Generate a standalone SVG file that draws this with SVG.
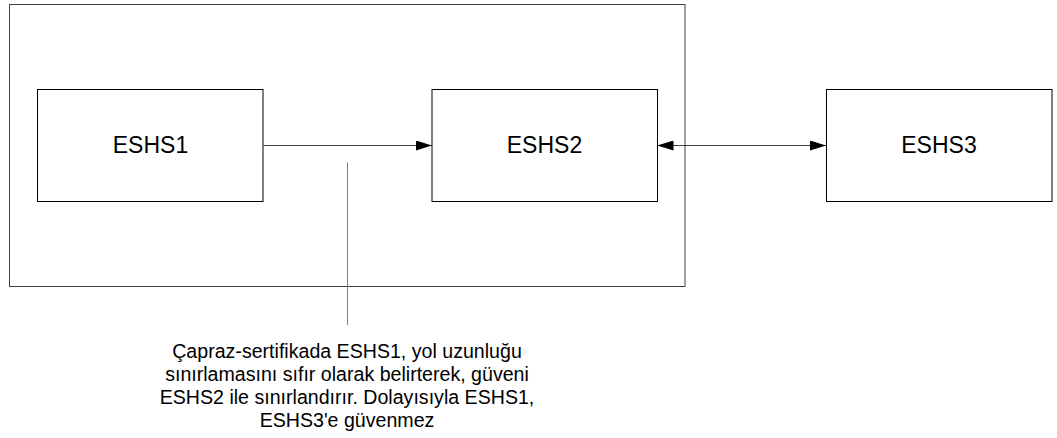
<svg xmlns="http://www.w3.org/2000/svg" width="1057" height="438" viewBox="0 0 1057 438">
  <style>
    .box { fill: #ffffff; stroke: #000000; stroke-width: 1; }
    .frame { fill: none; stroke: #404040; stroke-width: 1; }
    .link { fill: none; stroke: #404040; stroke-width: 1; }
    .callout { fill: none; stroke: #808080; stroke-width: 1; }
    .label { font-family: "Liberation Sans", Arial, sans-serif; font-size: 23px; fill: #000000; text-anchor: middle; }
    .note { font-family: "Liberation Sans", Arial, sans-serif; font-size: 19.6px; fill: #000000; text-anchor: middle; }
  </style>
  <defs>
    <marker id="head" viewBox="0 0 16 10" refX="16" refY="5" markerWidth="16" markerHeight="10" markerUnits="userSpaceOnUse" orient="auto-start-reverse">
      <path d="M0,0 L16,5 L0,10 Z" fill="#000000"/>
    </marker>
  </defs>
  <rect width="1057" height="438" fill="#ffffff"/>

  <!-- trust domain frame around ESHS1 and ESHS2 -->
  <rect id="domain" class="frame" x="9.5" y="4.5" width="675.5" height="282"/>

  <g id="connectors">
    <line class="link" x1="263.5" y1="145.5" x2="432" y2="145.5" marker-end="url(#head)"/>
    <line class="link" x1="657.5" y1="145.5" x2="826" y2="145.5" marker-start="url(#head)" marker-end="url(#head)"/>
    <line class="callout" x1="347.5" y1="162.5" x2="347.5" y2="325"/>
  </g>

  <g id="eshs1">
    <rect class="box" x="37.5" y="89.5" width="225.5" height="112"/>
    <text class="label" x="150.5" y="153">ESHS1</text>
  </g>
  <g id="eshs2">
    <rect class="box" x="432" y="89.5" width="225.5" height="112"/>
    <text class="label" x="544.5" y="153">ESHS2</text>
  </g>
  <g id="eshs3">
    <rect class="box" x="826.5" y="89.5" width="225.5" height="112"/>
    <text class="label" x="939" y="153">ESHS3</text>
  </g>

  <g id="note">
    <text class="note" x="347" y="358">Çapraz-sertifikada ESHS1, yol uzunluğu</text>
    <text class="note" x="347" y="381">sınırlamasını sıfır olarak belirterek, güveni</text>
    <text class="note" x="347" y="404">ESHS2 ile sınırlandırır. Dolayısıyla ESHS1,</text>
    <text class="note" x="347" y="427">ESHS3'e güvenmez</text>
  </g>
</svg>
